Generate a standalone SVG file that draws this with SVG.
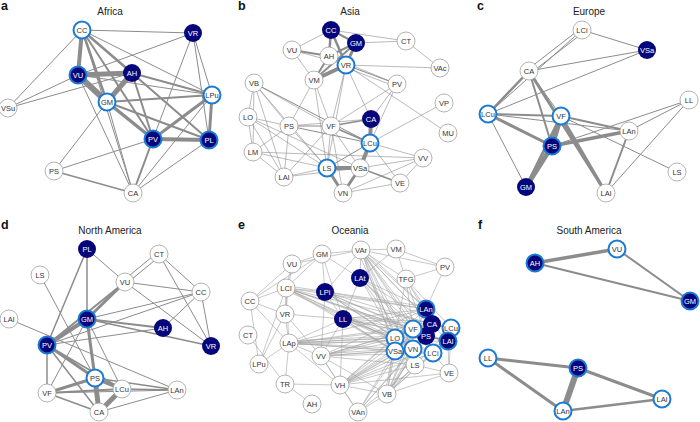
<svg xmlns="http://www.w3.org/2000/svg" width="700" height="422" viewBox="0 0 700 422">
<style>
text{font-family:"Liberation Sans",Arial,sans-serif}
.lt{font-size:12.5px;font-weight:bold;fill:#111}
.ti{font-size:10px;fill:#222;text-anchor:middle}
.ed line,.ed path{stroke:#8c8c8c;fill:none;stroke-linecap:round}
.w0{stroke-width:.6}.w1{stroke-width:1}.w15{stroke-width:1.5}.w2{stroke-width:2}.w25{stroke-width:2.5}.w3{stroke-width:3}.w35{stroke-width:3.5}.w4{stroke-width:4}.w5{stroke-width:5}.w6{stroke-width:6}
.ed .oc path{stroke:#a2a2a2;stroke-width:.6;fill:none}
.wn{fill:#fff;stroke:#a0a0a0;stroke-width:.8}
.rn{fill:#fff;stroke:#1b7ad4;stroke-width:2}
.nn{fill:#06067c}
.nr{fill:#06067c;stroke:#1b7ad4;stroke-width:2}
.nd text{font-size:7.5px;text-anchor:middle;fill:#333}
.nd .tw{fill:#fff}
</style>

<!-- labels -->
<text class="lt" x="1" y="10">a</text>
<text class="lt" x="238" y="10">b</text>
<text class="lt" x="477" y="10">c</text>
<text class="lt" x="1" y="229">d</text>
<text class="lt" x="238" y="229">e</text>
<text class="lt" x="478" y="229">f</text>
<text class="ti" x="110" y="15">Africa</text>
<text class="ti" x="350" y="15">Asia</text>
<text class="ti" x="589" y="15">Europe</text>
<text class="ti" x="110" y="234">North America</text>
<text class="ti" x="350" y="234">Oceania</text>
<text class="ti" x="589" y="234">South America</text>

<g id="connectors" class="ed">
<!-- Africa -->
<line x1="82" y1="30" x2="193" y2="33" class="w1"/>
<line x1="82" y1="30" x2="212" y2="95" class="w1"/>
<line x1="82" y1="30" x2="8" y2="108" class="w1"/>
<line x1="82" y1="30" x2="133" y2="193" class="w1"/>
<line x1="82" y1="30" x2="209" y2="140" class="w1"/>
<line x1="78" y1="75" x2="8" y2="108" class="w1"/>
<line x1="132" y1="73" x2="8" y2="108" class="w1"/>
<line x1="78" y1="75" x2="193" y2="33" class="w1"/>
<line x1="78" y1="75" x2="133" y2="193" class="w1"/>
<line x1="78" y1="75" x2="212" y2="95" class="w1"/>
<line x1="107" y1="102" x2="54" y2="171" class="w1"/>
<line x1="107" y1="102" x2="133" y2="193" class="w1"/>
<line x1="193" y1="33" x2="153" y2="139" class="w1"/>
<line x1="193" y1="33" x2="212" y2="95" class="w1"/>
<line x1="193" y1="33" x2="209" y2="140" class="w1"/>
<line x1="212" y1="95" x2="133" y2="193" class="w1"/>
<line x1="153" y1="139" x2="54" y2="171" class="w1"/>
<line x1="209" y1="140" x2="133" y2="193" class="w1"/>
<line x1="54" y1="171" x2="133" y2="193" class="w15"/>
<line x1="82" y1="30" x2="153" y2="139" class="w2"/>
<line x1="132" y1="73" x2="212" y2="95" class="w2"/>
<line x1="132" y1="73" x2="153" y2="139" class="w2"/>
<line x1="132" y1="73" x2="209" y2="140" class="w2"/>
<line x1="107" y1="102" x2="212" y2="95" class="w2"/>
<line x1="107" y1="102" x2="209" y2="140" class="w2"/>
<line x1="153" y1="139" x2="133" y2="193" class="w2"/>
<line x1="82" y1="30" x2="132" y2="73" class="w25"/>
<line x1="82" y1="30" x2="107" y2="102" class="w25"/>
<line x1="212" y1="95" x2="209" y2="140" class="w3"/>
<line x1="212" y1="95" x2="153" y2="139" class="w3"/>
<line x1="107" y1="102" x2="153" y2="139" class="w35"/>
<line x1="82" y1="30" x2="78" y2="75" class="w4"/>
<line x1="153" y1="139" x2="209" y2="140" class="w4"/>
<line x1="78" y1="75" x2="132" y2="73" class="w5"/>
<line x1="132" y1="73" x2="107" y2="102" class="w5"/>
<line x1="78" y1="75" x2="107" y2="102" class="w6"/>

<!-- Asia -->
<path class="w0" d="M331 30L406 41M331 30L292 50M356 43L406 41M292 50L346 65M292 50L314 80M406 41L440 68M346 65L440 68M329 56L397 84M346 65L448 133M346 65L371 119M346 65L331 126M346 65L327 168M314 80L289 126M314 80L331 126M314 80L327 168M397 84L371 119M397 84L370 143M397 84L331 126M444 103L370 143M254 83L248 117M254 83L289 126M254 83L253 152M254 83L284 177M254 83L331 126M248 117L289 126M248 117L253 152M248 117L327 168M248 117L360 168M248 117L284 177M289 126L327 168M289 126L284 177M289 126L253 152M289 126L371 119M331 126L327 168M331 126L360 168M331 126L343 193M370 143L423 158M253 152L327 168M253 152L423 158M253 152L284 177M284 177L327 168M284 177L360 168M360 168L423 158M423 158L400 183M423 158L343 193M400 183L343 193M370 143L400 183M284 177L331 126M327 168L254 83"/>
<line x1="346" y1="65" x2="397" y2="84" class="w1"/>
<line x1="347" y1="68" x2="397" y2="87" class="w0"/>
<line x1="254" y1="83" x2="370" y2="143" class="w1"/>
<line x1="289" y1="126" x2="331" y2="126" class="w1"/>
<line x1="289" y1="126" x2="370" y2="143" class="w1"/>
<line x1="370" y1="143" x2="327" y2="168" class="w1"/>
<line x1="331" y1="126" x2="371" y2="119" class="w15"/>
<line x1="331" y1="126" x2="370" y2="143" class="w15"/>
<line x1="360" y1="168" x2="400" y2="183" class="w15"/>
<line x1="331" y1="30" x2="356" y2="43" class="w2"/>
<line x1="356" y1="43" x2="329" y2="56" class="w2"/>
<line x1="356" y1="43" x2="314" y2="80" class="w2"/>
<line x1="292" y1="50" x2="329" y2="56" class="w2"/>
<line x1="329" y1="56" x2="314" y2="80" class="w2"/>
<line x1="331" y1="30" x2="329" y2="56" class="w25"/>
<line x1="331" y1="30" x2="346" y2="65" class="w25"/>
<line x1="356" y1="43" x2="346" y2="65" class="w3"/>
<line x1="327" y1="168" x2="343" y2="193" class="w3"/>
<line x1="360" y1="168" x2="343" y2="193" class="w3"/>
<line x1="346" y1="65" x2="314" y2="80" class="w4"/>
<line x1="371" y1="119" x2="370" y2="143" class="w4"/>
<line x1="370" y1="143" x2="360" y2="168" class="w4"/>
<line x1="327" y1="168" x2="360" y2="168" class="w4"/>

<!-- Europe -->
<line x1="582" y1="30" x2="647" y2="50" class="w1"/>
<line x1="582" y1="30" x2="488" y2="114" class="w1"/>
<line x1="529" y1="71" x2="647" y2="50" class="w1"/>
<line x1="488" y1="114" x2="647" y2="50" class="w1"/>
<line x1="529" y1="71" x2="561" y2="116" class="w1"/>
<line x1="488" y1="114" x2="526" y2="187" class="w1"/>
<line x1="561" y1="116" x2="677" y2="172" class="w1"/>
<line x1="552" y1="146" x2="689" y2="100" class="w1"/>
<line x1="629" y1="131" x2="689" y2="100" class="w1"/>
<line x1="689" y1="100" x2="606" y2="193" class="w1"/>
<line x1="488" y1="114" x2="629" y2="131" class="w1"/>
<line x1="580" y1="29" x2="527" y2="70" class="w1"/>
<line x1="584" y1="32" x2="531" y2="73" class="w1"/>
<line x1="488" y1="114" x2="561" y2="116" class="w2"/>
<line x1="561" y1="116" x2="629" y2="131" class="w2"/>
<line x1="629" y1="131" x2="606" y2="193" class="w2"/>
<line x1="529" y1="71" x2="488" y2="114" class="w25"/>
<line x1="529" y1="71" x2="552" y2="146" class="w2"/>
<line x1="529" y1="71" x2="606" y2="193" class="w3"/>
<line x1="488" y1="114" x2="552" y2="146" class="w3"/>
<line x1="561" y1="116" x2="606" y2="193" class="w3"/>
<line x1="561" y1="116" x2="526" y2="187" class="w3"/>
<line x1="552" y1="146" x2="629" y2="131" class="w35"/>
<line x1="561" y1="116" x2="552" y2="146" class="w5"/>
<line x1="552" y1="146" x2="526" y2="187" class="w5"/>

<!-- North America -->
<line x1="87" y1="249" x2="125" y2="282" class="w1"/>
<line x1="159" y1="254" x2="201" y2="292" class="w1"/>
<line x1="159" y1="254" x2="211" y2="346" class="w1"/>
<line x1="125" y1="282" x2="201" y2="292" class="w1"/>
<line x1="125" y1="282" x2="211" y2="346" class="w1"/>
<line x1="201" y1="292" x2="87" y2="319" class="w1"/>
<line x1="201" y1="292" x2="163" y2="328" class="w1"/>
<line x1="201" y1="292" x2="211" y2="346" class="w1"/>
<line x1="201" y1="292" x2="47" y2="345" class="w1"/>
<line x1="87" y1="319" x2="47" y2="393" class="w1"/>
<line x1="87" y1="319" x2="122" y2="389" class="w1"/>
<line x1="40" y1="275" x2="95" y2="378" class="w1"/>
<line x1="9" y1="319" x2="177" y2="390" class="w1"/>
<line x1="163" y1="328" x2="47" y2="345" class="w1"/>
<line x1="99" y1="412" x2="177" y2="390" class="w1"/>
<line x1="47" y1="393" x2="177" y2="390" class="w1"/>
<line x1="87" y1="249" x2="87" y2="319" class="w15"/>
<line x1="87" y1="249" x2="47" y2="345" class="w15"/>
<line x1="87" y1="319" x2="211" y2="346" class="w15"/>
<line x1="47" y1="345" x2="47" y2="393" class="w15"/>
<line x1="47" y1="345" x2="99" y2="412" class="w15"/>
<line x1="47" y1="345" x2="122" y2="389" class="w15"/>
<line x1="95" y1="378" x2="177" y2="390" class="w15"/>
<line x1="47" y1="393" x2="99" y2="412" class="w15"/>
<line x1="122" y1="389" x2="177" y2="390" class="w15"/>
<line x1="158" y1="252" x2="124" y2="280" class="w1"/>
<line x1="160" y1="256" x2="126" y2="284" class="w1"/>
<line x1="125" y1="282" x2="47" y2="345" class="w2"/>
<line x1="87" y1="319" x2="163" y2="328" class="w2"/>
<line x1="47" y1="393" x2="122" y2="389" class="w2"/>
<line x1="125" y1="282" x2="87" y2="319" class="w3"/>
<line x1="87" y1="319" x2="95" y2="378" class="w3"/>
<line x1="47" y1="345" x2="95" y2="378" class="w3"/>
<line x1="95" y1="378" x2="47" y2="393" class="w3"/>
<line x1="87" y1="319" x2="47" y2="345" class="w4"/>
<line x1="95" y1="378" x2="122" y2="389" class="w4"/>
<line x1="95" y1="378" x2="99" y2="412" class="w5"/>
<line x1="122" y1="389" x2="99" y2="412" class="w5"/>

<!-- Oceania -->
<g class="oc">
<path d="M250 301L292 264M250 301L286 288M250 301L285 314M250 301L289 343M250 301L259 364M250 301L322 254M292 264L322 254M292 264L286 288M292 264L285 314M292 264L361 250M322 254L361 250M322 254L286 288M322 254L325 292M322 254L360 278M322 254L343 319M361 250L396 249M361 250L360 278M361 250L406 279M361 250L445 267M361 250L325 292M396 249L445 267M396 249L406 279M396 249L360 278M406 279L445 267M445 267L426 309M286 288L285 314M286 288L289 343M286 288L325 292M286 288L259 364M286 288L343 319M285 314L289 343M285 314L259 364M285 314L321 356M285 314L343 319M289 343L259 364M289 343L321 356M289 343L340 385M289 343L343 319M289 343L285 384M248 335L285 384M285 384L312 404M285 384L340 385M321 356L340 385M321 356L358 412M321 356L343 319M321 356L387 394M340 385L358 412M340 385L387 394M340 385L343 319M358 412L387 394M387 394L415 365M387 394L449 373M415 365L449 373M325 292L343 319M325 292L321 356M360 278L343 319M451 328L449 373M448 341L449 373M449 373L433 353"/>
<path d="M361 250L426 309M361 250L432 324M361 250L426 336M361 250L413 329M361 250L395 338M361 250L395 351M361 250L413 349M361 250L433 353M361 250L415 365M361 250L448 341M364 250L430 312M358 252L398 340"/>
<path d="M360 278L426 309M360 278L432 324M360 278L426 336M360 278L413 329M360 278L395 338M360 278L413 349M360 278L433 353M406 279L426 309M406 279L432 324M406 279L426 336M406 279L413 329M406 279L395 338M406 279L451 328"/>
<path d="M286 288L426 309M286 288L432 324M286 288L426 336M286 288L413 329M286 288L395 338M286 288L395 351M286 288L413 349M286 288L448 341M288 286L428 307M285 290L397 341"/>
<path d="M325 292L426 309M325 292L432 324M325 292L426 336M325 292L413 329M325 292L395 338M325 292L413 349M325 292L433 353"/>
<path d="M343 319L426 309M343 319L432 324M343 319L426 336M343 319L413 329M343 319L395 338M343 319L395 351M343 319L413 349M343 319L433 353M343 319L415 365M343 319L448 341M343 317L430 322"/>
<path d="M289 343L426 309M289 343L432 324M289 343L426 336M289 343L413 329M289 343L395 338M289 343L395 351M289 343L413 349M289 343L433 353M289 343L448 341M289 341L395 336M289 345L395 340"/>
<path d="M321 356L426 309M321 356L432 324M321 356L426 336M321 356L413 329M321 356L395 338M321 356L395 351M321 356L413 349M321 356L433 353M321 356L415 365M321 354L395 349"/>
<path d="M340 385L426 309M340 385L432 324M340 385L426 336M340 385L413 329M340 385L395 338M340 385L395 351M340 385L413 349M340 385L433 353M340 385L415 365M340 385L449 373M340 385L448 341M342 385L397 353"/>
<path d="M387 394L426 309M387 394L432 324M387 394L426 336M387 394L413 329M387 394L395 338M387 394L395 351M387 394L413 349M387 394L433 353M387 394L451 328M387 394L448 341M385 394L393 351M389 394L415 349"/>
<path d="M358 412L426 336M358 412L413 329M358 412L413 349M358 412L433 353M358 412L395 351"/>
</g>
<path class="w15" d="M426 309L432 324M432 324L426 336M426 336L448 341M432 324L451 328M426 336L433 353M413 329L426 336M395 338L413 329"/>

<!-- South America -->
<line x1="535" y1="263" x2="690" y2="301" class="w2"/>
<line x1="617" y1="249" x2="690" y2="301" class="w2"/>
<line x1="535" y1="263" x2="617" y2="249" class="w35"/>
<line x1="488" y1="358" x2="578" y2="368" class="w3"/>
<line x1="488" y1="358" x2="563" y2="411" class="w3"/>
<line x1="578" y1="368" x2="662" y2="399" class="w3"/>
<line x1="563" y1="411" x2="662" y2="399" class="w25"/>
<line x1="578" y1="368" x2="563" y2="411" class="w6"/>
</g>

<g id="nodes" class="nd">
<!-- Africa -->
<g id="a-CC"><circle cx="82" cy="30" r="8.5" class="rn"/><text x="82" y="32.7">CC</text></g>
<g id="a-VR"><circle cx="193" cy="33" r="9" class="nn"/><text x="193" y="35.7" class="tw">VR</text></g>
<g id="a-VU"><circle cx="78" cy="75" r="8.5" class="nr"/><text x="78" y="77.7" class="tw">VU</text></g>
<g id="a-AH"><circle cx="132" cy="73" r="9" class="nn"/><text x="132" y="75.7" class="tw">AH</text></g>
<g id="a-GM"><circle cx="107" cy="102" r="8.5" class="rn"/><text x="107" y="104.7">GM</text></g>
<g id="a-LPu"><circle cx="212" cy="95" r="8.5" class="rn"/><text x="212" y="97.7">LPu</text></g>
<g id="a-VSu"><circle cx="8" cy="108" r="9" class="wn"/><text x="8" y="110.7">VSu</text></g>
<g id="a-PV"><circle cx="153" cy="139" r="8.5" class="nr"/><text x="153" y="141.7" class="tw">PV</text></g>
<g id="a-PL"><circle cx="209" cy="140" r="8.5" class="nr"/><text x="209" y="142.7" class="tw">PL</text></g>
<g id="a-PS"><circle cx="54" cy="171" r="9" class="wn"/><text x="54" y="173.7">PS</text></g>
<g id="a-CA"><circle cx="133" cy="193" r="9" class="wn"/><text x="133" y="195.7">CA</text></g>

<!-- Asia -->
<g id="b-CC"><circle cx="331" cy="30" r="9" class="nn"/><text x="331" y="32.7" class="tw">CC</text></g>
<g id="b-GM"><circle cx="356" cy="43" r="9" class="nn"/><text x="356" y="45.7" class="tw">GM</text></g>
<g id="b-CT"><circle cx="406" cy="41" r="9" class="wn"/><text x="406" y="43.7">CT</text></g>
<g id="b-VU"><circle cx="292" cy="50" r="9" class="wn"/><text x="292" y="52.7">VU</text></g>
<g id="b-AH"><circle cx="329" cy="56" r="9" class="wn"/><text x="329" y="58.7">AH</text></g>
<g id="b-VR"><circle cx="346" cy="65" r="8.5" class="rn"/><text x="346" y="67.7">VR</text></g>
<g id="b-VAc"><circle cx="440" cy="68" r="9" class="wn"/><text x="440" y="70.7">VAc</text></g>
<g id="b-VM"><circle cx="314" cy="80" r="9" class="wn"/><text x="314" y="82.7">VM</text></g>
<g id="b-VB"><circle cx="254" cy="83" r="9" class="wn"/><text x="254" y="85.7">VB</text></g>
<g id="b-PV"><circle cx="397" cy="84" r="9" class="wn"/><text x="397" y="86.7">PV</text></g>
<g id="b-VP"><circle cx="444" cy="103" r="9" class="wn"/><text x="444" y="105.7">VP</text></g>
<g id="b-LO"><circle cx="248" cy="117" r="9" class="wn"/><text x="248" y="119.7">LO</text></g>
<g id="b-PS"><circle cx="289" cy="126" r="9" class="wn"/><text x="289" y="128.7">PS</text></g>
<g id="b-VF"><circle cx="331" cy="126" r="9" class="wn"/><text x="331" y="128.7">VF</text></g>
<g id="b-CA"><circle cx="371" cy="119" r="9" class="nn"/><text x="371" y="121.7" class="tw">CA</text></g>
<g id="b-MU"><circle cx="448" cy="133" r="9" class="wn"/><text x="448" y="135.7">MU</text></g>
<g id="b-LCu"><circle cx="370" cy="143" r="8.5" class="rn"/><text x="370" y="145.7">LCu</text></g>
<g id="b-LM"><circle cx="253" cy="152" r="9" class="wn"/><text x="253" y="154.7">LM</text></g>
<g id="b-VV"><circle cx="423" cy="158" r="9" class="wn"/><text x="423" y="160.7">VV</text></g>
<g id="b-LAl"><circle cx="284" cy="177" r="9" class="wn"/><text x="284" y="179.7">LAl</text></g>
<g id="b-LS"><circle cx="327" cy="168" r="8.5" class="rn"/><text x="327" y="170.7">LS</text></g>
<g id="b-VSa"><circle cx="360" cy="168" r="9" class="wn"/><text x="360" y="170.7">VSa</text></g>
<g id="b-VE"><circle cx="400" cy="183" r="9" class="wn"/><text x="400" y="185.7">VE</text></g>
<g id="b-VN"><circle cx="343" cy="193" r="9" class="wn"/><text x="343" y="195.7">VN</text></g>

<!-- Europe -->
<g id="c-LCi"><circle cx="582" cy="30" r="9" class="wn"/><text x="582" y="32.7">LCi</text></g>
<g id="c-VSa"><circle cx="647" cy="50" r="9" class="nn"/><text x="647" y="52.7" class="tw">VSa</text></g>
<g id="c-CA"><circle cx="529" cy="71" r="9" class="wn"/><text x="529" y="73.7">CA</text></g>
<g id="c-LL"><circle cx="689" cy="100" r="9" class="wn"/><text x="689" y="102.7">LL</text></g>
<g id="c-LCu"><circle cx="488" cy="114" r="8.5" class="rn"/><text x="488" y="116.7">LCu</text></g>
<g id="c-VF"><circle cx="561" cy="116" r="8.5" class="rn"/><text x="561" y="118.7">VF</text></g>
<g id="c-LAn"><circle cx="629" cy="131" r="9" class="wn"/><text x="629" y="133.7">LAn</text></g>
<g id="c-PS"><circle cx="552" cy="146" r="8.5" class="nr"/><text x="552" y="148.7" class="tw">PS</text></g>
<g id="c-LS"><circle cx="677" cy="172" r="9" class="wn"/><text x="677" y="174.7">LS</text></g>
<g id="c-GM"><circle cx="526" cy="187" r="9" class="nn"/><text x="526" y="189.7" class="tw">GM</text></g>
<g id="c-LAl"><circle cx="606" cy="193" r="9" class="wn"/><text x="606" y="195.7">LAl</text></g>

<!-- North America -->
<g id="d-PL"><circle cx="87" cy="249" r="9" class="nn"/><text x="87" y="251.7" class="tw">PL</text></g>
<g id="d-CT"><circle cx="159" cy="254" r="9" class="wn"/><text x="159" y="256.7">CT</text></g>
<g id="d-LS"><circle cx="40" cy="275" r="9" class="wn"/><text x="40" y="277.7">LS</text></g>
<g id="d-VU"><circle cx="125" cy="282" r="9" class="wn"/><text x="125" y="284.7">VU</text></g>
<g id="d-CC"><circle cx="201" cy="292" r="9" class="wn"/><text x="201" y="294.7">CC</text></g>
<g id="d-LAl"><circle cx="9" cy="319" r="9" class="wn"/><text x="9" y="321.7">LAl</text></g>
<g id="d-GM"><circle cx="87" cy="319" r="8.5" class="nr"/><text x="87" y="321.7" class="tw">GM</text></g>
<g id="d-AH"><circle cx="163" cy="328" r="9" class="nn"/><text x="163" y="330.7" class="tw">AH</text></g>
<g id="d-PV"><circle cx="47" cy="345" r="8.5" class="nr"/><text x="47" y="347.7" class="tw">PV</text></g>
<g id="d-VR"><circle cx="211" cy="346" r="9" class="nn"/><text x="211" y="348.7" class="tw">VR</text></g>
<g id="d-PS"><circle cx="95" cy="378" r="8.5" class="rn"/><text x="95" y="380.7">PS</text></g>
<g id="d-VF"><circle cx="47" cy="393" r="9" class="wn"/><text x="47" y="395.7">VF</text></g>
<g id="d-LCu"><circle cx="122" cy="389" r="9" class="wn"/><text x="122" y="391.7">LCu</text></g>
<g id="d-LAn"><circle cx="177" cy="390" r="9" class="wn"/><text x="177" y="392.7">LAn</text></g>
<g id="d-CA"><circle cx="99" cy="412" r="9" class="wn"/><text x="99" y="414.7">CA</text></g>

<!-- Oceania -->
<g id="e-VAr"><circle cx="361" cy="250" r="9" class="wn"/><text x="361" y="252.7">VAr</text></g>
<g id="e-VM"><circle cx="396" cy="249" r="9" class="wn"/><text x="396" y="251.7">VM</text></g>
<g id="e-GM"><circle cx="322" cy="254" r="9" class="wn"/><text x="322" y="256.7">GM</text></g>
<g id="e-VU"><circle cx="292" cy="264" r="9" class="wn"/><text x="292" y="266.7">VU</text></g>
<g id="e-PV"><circle cx="445" cy="267" r="9" class="wn"/><text x="445" y="269.7">PV</text></g>
<g id="e-LAt"><circle cx="360" cy="278" r="9" class="nn"/><text x="360" y="280.7" class="tw">LAt</text></g>
<g id="e-TFG"><circle cx="406" cy="279" r="9" class="wn"/><text x="406" y="281.7">TFG</text></g>
<g id="e-LCl"><circle cx="286" cy="288" r="9" class="wn"/><text x="286" y="290.7">LCl</text></g>
<g id="e-LPi"><circle cx="325" cy="292" r="9" class="nn"/><text x="325" y="294.7" class="tw">LPi</text></g>
<g id="e-CC"><circle cx="250" cy="301" r="9" class="wn"/><text x="250" y="303.7">CC</text></g>
<g id="e-VR"><circle cx="285" cy="314" r="9" class="wn"/><text x="285" y="316.7">VR</text></g>
<g id="e-LL"><circle cx="343" cy="319" r="9" class="nn"/><text x="343" y="321.7" class="tw">LL</text></g>
<g id="e-CT"><circle cx="248" cy="335" r="9" class="wn"/><text x="248" y="337.7">CT</text></g>
<g id="e-LAp"><circle cx="289" cy="343" r="9" class="wn"/><text x="289" y="345.7">LAp</text></g>
<g id="e-VV"><circle cx="321" cy="356" r="9" class="wn"/><text x="321" y="358.7">VV</text></g>
<g id="e-LPu"><circle cx="259" cy="364" r="9" class="wn"/><text x="259" y="366.7">LPu</text></g>
<g id="e-TR"><circle cx="285" cy="384" r="9" class="wn"/><text x="285" y="386.7">TR</text></g>
<g id="e-VH"><circle cx="340" cy="385" r="9" class="wn"/><text x="340" y="387.7">VH</text></g>
<g id="e-AH"><circle cx="312" cy="404" r="9" class="wn"/><text x="312" y="406.7">AH</text></g>
<g id="e-VAn"><circle cx="358" cy="412" r="9" class="wn"/><text x="358" y="414.7">VAn</text></g>
<g id="e-VB"><circle cx="387" cy="394" r="9" class="wn"/><text x="387" y="396.7">VB</text></g>
<g id="e-LS"><circle cx="415" cy="365" r="9" class="wn"/><text x="415" y="367.7">LS</text></g>
<g id="e-VE"><circle cx="449" cy="373" r="9" class="wn"/><text x="449" y="375.7">VE</text></g>
<g id="e-LAn"><circle cx="426" cy="309" r="8.5" class="nr"/><text x="426" y="311.7" class="tw">LAn</text></g>
<g id="e-CA"><circle cx="432" cy="324" r="9" class="nn"/><text x="432" y="326.7" class="tw">CA</text></g>
<g id="e-LCu"><circle cx="451" cy="328" r="8.5" class="rn"/><text x="451" y="330.7">LCu</text></g>
<g id="e-PS"><circle cx="426" cy="336" r="9" class="nn"/><text x="426" y="338.7" class="tw">PS</text></g>
<g id="e-LAl"><circle cx="448" cy="341" r="8.5" class="nr"/><text x="448" y="343.7" class="tw">LAl</text></g>
<g id="e-VF"><circle cx="413" cy="329" r="8.5" class="rn"/><text x="413" y="331.7">VF</text></g>
<g id="e-LO"><circle cx="395" cy="338" r="8.5" class="rn"/><text x="395" y="340.7">LO</text></g>
<g id="e-VSa"><circle cx="395" cy="351" r="8.5" class="rn"/><text x="395" y="353.7">VSa</text></g>
<g id="e-VN"><circle cx="413" cy="349" r="8.5" class="rn"/><text x="413" y="351.7">VN</text></g>
<g id="e-LCi"><circle cx="433" cy="353" r="8.5" class="rn"/><text x="433" y="355.7">LCi</text></g>

<!-- South America -->
<g id="f-VU"><circle cx="617" cy="249" r="8.5" class="rn"/><text x="617" y="251.7">VU</text></g>
<g id="f-AH"><circle cx="535" cy="263" r="8.5" class="nr"/><text x="535" y="265.7" class="tw">AH</text></g>
<g id="f-GM"><circle cx="690" cy="301" r="8.5" class="nr"/><text x="690" y="303.7" class="tw">GM</text></g>
<g id="f-LL"><circle cx="488" cy="358" r="8.5" class="rn"/><text x="488" y="360.7">LL</text></g>
<g id="f-PS"><circle cx="578" cy="368" r="8.5" class="nr"/><text x="578" y="370.7" class="tw">PS</text></g>
<g id="f-LAl"><circle cx="662" cy="399" r="8.5" class="rn"/><text x="662" y="401.7">LAl</text></g>
<g id="f-LAn"><circle cx="563" cy="411" r="8.5" class="rn"/><text x="563" y="413.7">LAn</text></g>
</g>
</svg>
